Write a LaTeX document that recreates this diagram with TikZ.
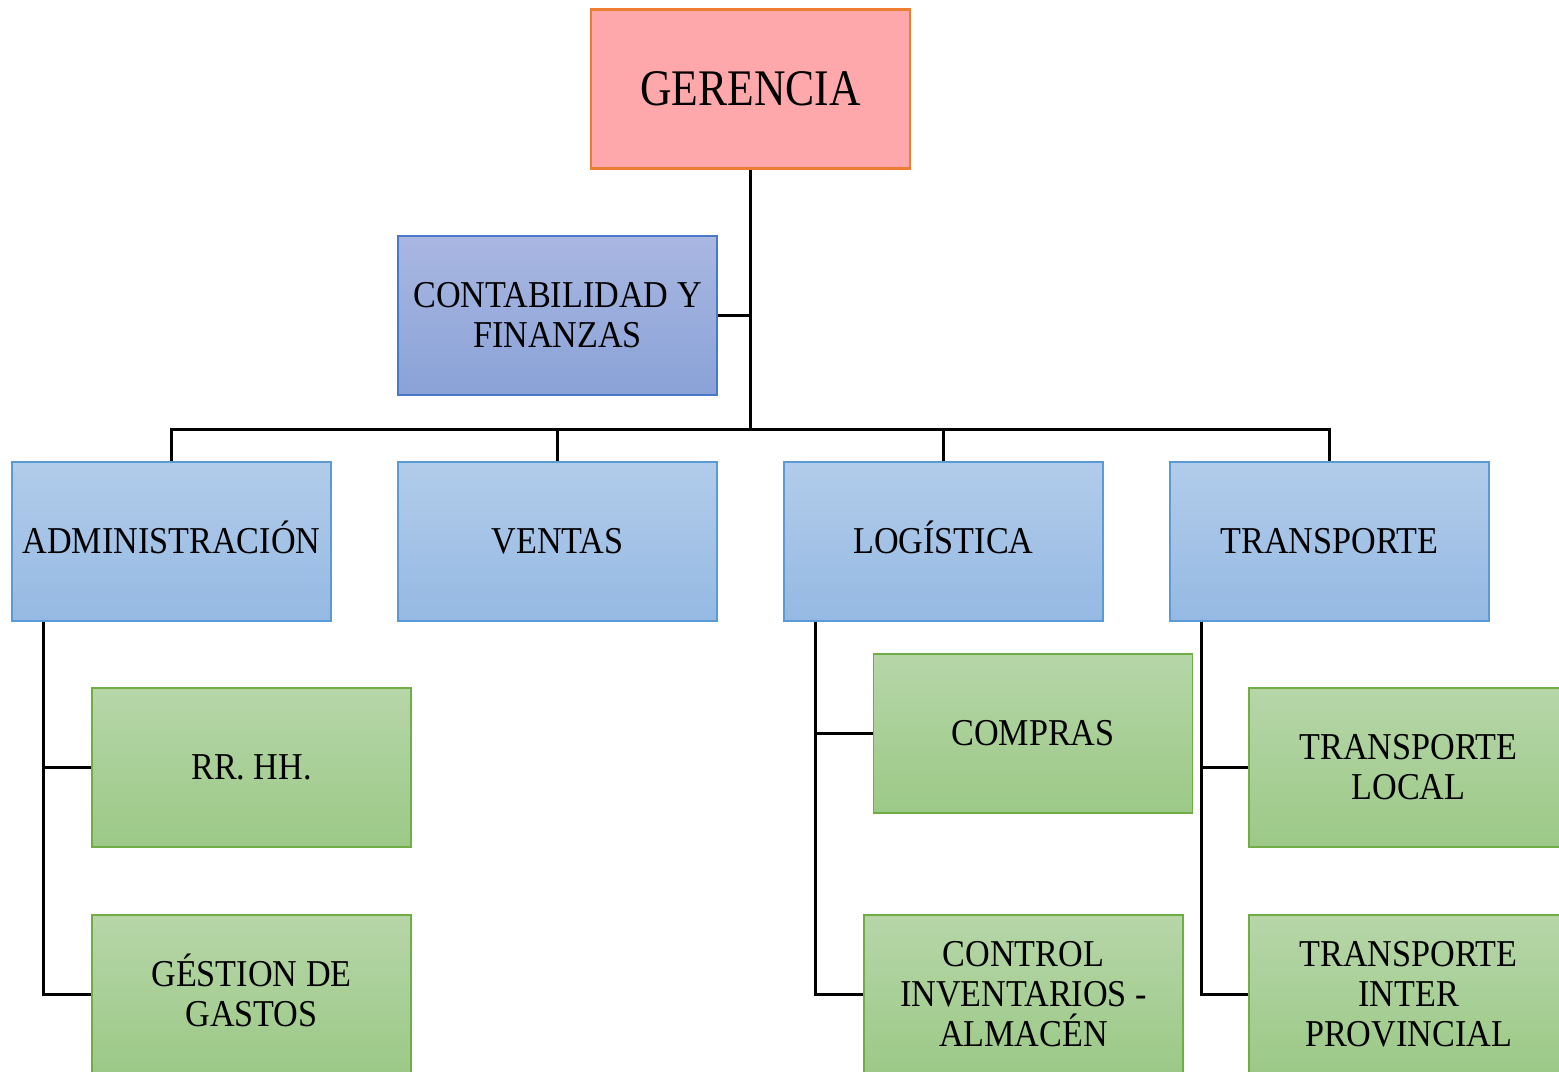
\documentclass[tikz,border=0pt]{standalone}
\usepackage{fontspec}
\setmainfont{Liberation Serif}[FakeStretch=0.85]
\newfontfamily\boxfont{Liberation Serif}[FakeStretch=0.9]
\usetikzlibrary{calc}
\definecolor{pinkfill}{HTML}{FFA8AC}
\definecolor{orangeline}{HTML}{ED7D31}
\definecolor{purptop}{HTML}{A9B7E1}
\definecolor{purpbot}{HTML}{8AA2D7}
\definecolor{purpline}{HTML}{4A78C8}
\definecolor{bluetop}{HTML}{B2CCEA}
\definecolor{bluebot}{HTML}{95B9E3}
\definecolor{blueline}{HTML}{5B9BD5}
\definecolor{greentop}{HTML}{B6D6A8}
\definecolor{greenbot}{HTML}{9CC987}
\definecolor{greenline}{HTML}{70AD47}
\tikzset{
  orgbox/.style={rectangle, minimum width=3.19cm, minimum height=1.59cm, inner sep=0pt,
    align=center, font=\boxfont\fontsize{10.8}{11.4}\selectfont, line width=0.5pt},
  topbox/.style={orgbox, fill=pinkfill, draw=orangeline, line width=0.8pt,
    font=\rmfamily\fontsize{14.6}{16}\selectfont},
  purpbox/.style={orgbox, top color=purptop, bottom color=purpbot, draw=purpline},
  bluebox/.style={orgbox, top color=bluetop, bottom color=bluebot, draw=blueline},
  greenbox/.style={orgbox, top color=greentop, bottom color=greenbot, draw=greenline},
  conn/.style={draw=black, line width=0.85pt}
}
\begin{document}
\begin{tikzpicture}
\clip (0,0) rectangle (15.59,-10.71);
\fill[white] (0,0) rectangle (15.59,-10.71);
% nodes
\node[topbox] (ger) at (7.505,-0.89) {GERENCIA};
\node[purpbox] (cont) at (5.575,-3.155) {CONTABILIDAD Y\\FINANZAS};
\node[bluebox] (adm) at (1.715,-5.415) {ADMINISTRACI\smash{Ó}N};
\node[bluebox] (ven) at (5.575,-5.415) {VENTAS};
\node[bluebox] (log) at (9.435,-5.415) {LOG\smash{Í}STICA};
\node[bluebox] (tra) at (13.295,-5.415) {TRANSPORTE};
\node[greenbox] (rrhh) at (2.515,-7.675) {RR. HH.};
\node[greenbox] (gest) at (2.515,-9.945) {G\smash{É}STION DE\\GASTOS};
\node[greenbox] (comp) at (10.33,-7.335) {COMPRAS};
\node[greenbox] (ctrl) at (10.235,-9.945) {CONTROL\\INVENTARIOS -\\ALMACÉN};
\node[greenbox] (tloc) at (14.085,-7.675) {TRANSPORTE\\LOCAL};
\node[greenbox] (tint) at (14.085,-9.945) {TRANSPORTE\\INTER\\PROVINCIAL};
% connectors
\coordinate (bus) at ($(ger.south)+(0,-2.6)$);
\draw[conn] (ger.south) -- (bus);
\draw[conn] (cont.east) -- (cont.east -| ger.south);
\draw[conn] (bus) -| (adm.north);
\draw[conn] (bus) -| (ven.north);
\draw[conn] (bus) -| (log.north);
\draw[conn] (bus) -| (tra.north);
\coordinate (admT) at ($(adm.south west)+(0.32,0)$);
\coordinate (logT) at ($(log.south west)+(0.32,0)$);
\coordinate (traT) at ($(tra.south west)+(0.32,0)$);
\draw[conn] (admT) |- (rrhh.west);
\draw[conn] (admT) |- (gest.west);
\draw[conn] (logT) |- (comp.west);
\draw[conn] (logT) |- (ctrl.west);
\draw[conn] (traT) |- (tloc.west);
\draw[conn] (traT) |- (tint.west);
\end{tikzpicture}
\end{document}
